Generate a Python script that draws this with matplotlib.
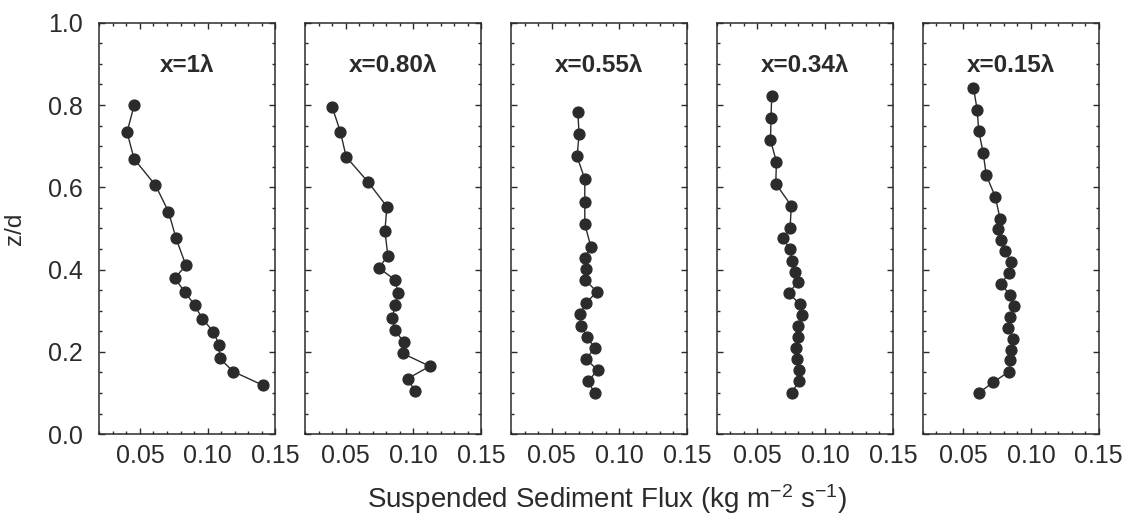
import numpy as np
import matplotlib.pyplot as plt
from matplotlib.ticker import MultipleLocator, FormatStrFormatter

plt.rcParams['font.family'] = ['Liberation Sans', 'DejaVu Sans']
plt.rcParams['mathtext.default'] = 'regular'

# panel labels
labels = ["x=1\u03bb", "x=0.80\u03bb", "x=0.55\u03bb", "x=0.34\u03bb", "x=0.15\u03bb"]

# x = 1 lambda
flux_1 = [0.0457, 0.0405, 0.0457, 0.0615, 0.0711, 0.0767, 0.0840, 0.0757,
          0.0833, 0.0904, 0.0962, 0.1043, 0.1085, 0.1090, 0.1190, 0.1407]
zd_1 = [0.799, 0.734, 0.669, 0.605, 0.541, 0.476, 0.410, 0.379,
        0.345, 0.314, 0.280, 0.249, 0.217, 0.184, 0.152, 0.119]

# x = 0.80 lambda
flux_2 = [0.0400, 0.0461, 0.0503, 0.0662, 0.0804, 0.0789, 0.0811, 0.0745, 0.0867,
          0.0884, 0.0867, 0.0843, 0.0862, 0.0928, 0.0921, 0.1121, 0.0958, 0.1011]
zd_2 = [0.795, 0.734, 0.674, 0.614, 0.553, 0.494, 0.434, 0.404, 0.374,
        0.344, 0.314, 0.283, 0.253, 0.224, 0.196, 0.165, 0.135, 0.104]

# x = 0.55 lambda
flux_3 = [0.0693, 0.0703, 0.0688, 0.0745, 0.0745, 0.0745, 0.0790, 0.0745, 0.0755, 0.0750,
          0.0834, 0.0755, 0.0708, 0.0716, 0.0762, 0.0817, 0.0755, 0.0839, 0.0770, 0.0817]
zd_3 = [0.784, 0.729, 0.675, 0.620, 0.565, 0.511, 0.455, 0.429, 0.401, 0.374,
        0.346, 0.319, 0.291, 0.264, 0.237, 0.209, 0.182, 0.156, 0.128, 0.100]

# x = 0.34 lambda
flux_4 = [0.0605, 0.0600, 0.0596, 0.0640, 0.0635, 0.0750, 0.0741, 0.0687, 0.0741, 0.0753, 0.0775,
          0.0797, 0.0731, 0.0812, 0.0831, 0.0802, 0.0797, 0.0785, 0.0790, 0.0804, 0.0804, 0.0755]
zd_4 = [0.822, 0.769, 0.715, 0.662, 0.609, 0.555, 0.502, 0.476, 0.449, 0.422, 0.395,
        0.369, 0.343, 0.316, 0.289, 0.263, 0.235, 0.209, 0.182, 0.156, 0.129, 0.100]

# x = 0.15 lambda
flux_5 = [0.0575, 0.0602, 0.0614, 0.0647, 0.0669, 0.0736, 0.0771, 0.0753, 0.0778, 0.0805, 0.0855, 0.0838,
          0.0776, 0.0845, 0.0872, 0.0845, 0.0833, 0.0867, 0.0853, 0.0848, 0.0838, 0.0721, 0.0614]
zd_5 = [0.842, 0.789, 0.737, 0.683, 0.630, 0.577, 0.524, 0.498, 0.472, 0.445, 0.418, 0.391,
        0.365, 0.339, 0.312, 0.285, 0.259, 0.232, 0.205, 0.179, 0.152, 0.126, 0.100]

fluxes = [flux_1, flux_2, flux_3, flux_4, flux_5]
zds = [zd_1, zd_2, zd_3, zd_4, zd_5]

ink = '#2b2b2b'

fig, axes = plt.subplots(1, 5, figsize=(11.35, 5.18), dpi=100, sharey=True)
fig.subplots_adjust(left=0.0875, right=0.968, top=0.956, bottom=0.162, wspace=0.17)

for ax, lab, fx, zd in zip(axes, labels, fluxes, zds):
    ax.plot(fx, zd, '-o', color=ink, lw=1.0, ms=7.8, mfc=ink, mec=ink)
    ax.set_xlim(0.02, 0.15)
    ax.set_ylim(0.0, 1.0)
    ax.xaxis.set_major_locator(MultipleLocator(0.05))
    ax.xaxis.set_minor_locator(MultipleLocator(0.01))
    ax.xaxis.set_major_formatter(FormatStrFormatter('%.2f'))
    ax.yaxis.set_major_locator(MultipleLocator(0.2))
    ax.yaxis.set_minor_locator(MultipleLocator(0.05))
    ax.yaxis.set_major_formatter(FormatStrFormatter('%.1f'))
    ax.tick_params(which='both', direction='in', top=True, right=True,
                   colors=ink, labelsize=18, width=1.0)
    ax.tick_params(which='major', length=4.5)
    ax.tick_params(which='minor', length=2.5)
    ax.tick_params(axis='x', which='major', pad=7)
    ax.tick_params(axis='y', which='major', pad=12)
    for s in ax.spines.values():
        s.set_linewidth(1.1)
        s.set_color(ink)
    ax.text(0.5, 0.897, lab, transform=ax.transAxes, ha='center', va='center',
            fontsize=17.5, fontweight='bold', color=ink)

axes[0].set_ylabel('z/d', fontsize=17.5, color=ink, labelpad=16)
fig.text(0.535, 0.019, 'Suspended Sediment Flux (kg m$^{-2}$ s$^{-1}$)',
         ha='center', va='baseline', fontsize=20, color=ink)

fig.savefig('out.png', dpi=100)
